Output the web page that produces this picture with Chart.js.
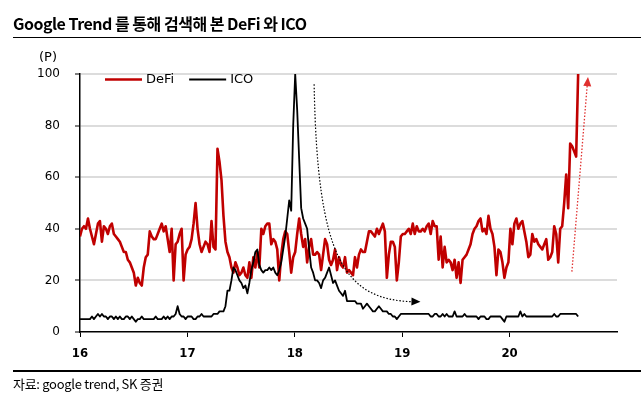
<!DOCTYPE html>
<html>
<head>
<meta charset="utf-8">
<script src="https://cdn.jsdelivr.net/npm/chart.js@4.4.1/dist/chart.umd.min.js"></script>
<style>
  html, body { margin: 0; padding: 0; background: #fff; }
  #wrap { position: relative; width: 641px; height: 396px; overflow: hidden; }
  #title { position: absolute; left: 13px; top: 11px; font: bold 16px "Liberation Sans Narrow", "Noto Sans CJK KR", sans-serif; letter-spacing: -0.5px; color: #000; white-space: nowrap; }
  .rule { position: absolute; left: 13px; right: 0; background: #000; }
  #unit { position: absolute; left: 39px; top: 49px; font: 13px "DejaVu Sans", sans-serif; color: #000; }
  #src { position: absolute; left: 13px; top: 374px; font: 13px "Liberation Sans Narrow", "Noto Sans CJK KR", sans-serif; letter-spacing: -0.3px; color: #000; white-space: nowrap; }
  canvas { position: absolute; left: 0; top: 0; }
</style>
</head>
<body>
<div id="wrap">
  <canvas id="myChart" width="641" height="396"></canvas>
  <div id="title">Google Trend 를 통해 검색해 본 DeFi 와 ICO</div>
  <div class="rule" style="top:37px;height:1px"></div>
  <div id="unit">(P)</div>
  <div class="rule" style="top:370px;height:2px"></div>
  <div id="src">자료: google trend, SK 증권</div>
</div>
<script>
// values, one sample every ~2px (about a week)
const startYear = 16;
const samplesPerYear = 53.9;
const yearTicks = [16, 17, 18, 19, 20];

const defi = [
  37, 40, 41, 40, 44, 40, 37, 34, 38, 42,
  43, 35, 41, 40, 38, 41, 42, 38, 37, 36,
  35, 33, 31, 31, 28, 27, 25, 23, 18, 21,
  19, 18, 25, 29, 30, 39, 37, 36, 36, 38,
  40, 42, 39, 41, 36, 31, 40, 20, 34, 35,
  38, 40, 20, 30, 32, 33, 36, 42, 50, 40,
  34, 31, 33, 35, 34, 31, 43, 33, 32, 71,
  66, 59, 45, 35, 31, 29, 25, 23, 27, 25,
  22, 23, 25, 22, 21, 27, 21, 29, 25, 31,
  25, 40, 38, 41, 42, 42, 34, 36, 35, 32,
  20, 30, 36, 39, 38, 31, 23, 29, 31, 38,
  44, 38, 33, 36, 27, 33, 36, 30, 30, 31,
  30, 24, 30, 36, 34, 28, 26, 28, 32, 24,
  29, 26, 25, 29, 23, 24, 23, 22, 29, 25,
  30, 32, 31, 31, 35, 39, 39, 38, 37, 40,
  38, 40, 42, 39, 21, 30, 35, 35, 33, 20,
  27, 37, 38, 38, 39, 40, 38, 42, 38, 41,
  39, 39, 40, 39, 41, 42, 38, 43, 41, 41,
  28, 37, 25, 33, 27, 28, 27, 24, 28, 21,
  27, 19, 28, 29, 30, 32, 34, 38, 40, 41,
  43, 44, 39, 40, 38, 45, 40, 38, 33, 22,
  32, 31, 27, 21, 25, 27, 40, 34, 42, 44,
  40, 42, 43, 39, 35, 29, 30, 38, 35, 36,
  34, 33, 32, 34, 36, 28, 29, 31, 41, 38,
  27, 40, 41, 50, 61, 48, 73, 72, 70, 68,
  100
];

const ico = [
  5, 5, 5, 5, 5, 5, 6, 5, 6, 7,
  6, 7, 6, 6, 5, 6, 6, 5, 6, 5,
  6, 5, 5, 6, 6, 5, 6, 5, 4, 5,
  5, 6, 5, 5, 5, 5, 5, 5, 6, 5,
  5, 5, 6, 5, 6, 5, 6, 6, 7, 10,
  7, 6, 6, 5, 6, 6, 6, 5, 5, 6,
  6, 7, 6, 6, 6, 6, 6, 7, 7, 7,
  8, 8, 8, 10, 16, 16, 20, 25, 24, 22,
  20, 19, 17, 18, 15, 19, 24, 27, 31, 32,
  26, 24, 23, 24, 24, 25, 24, 25, 23, 22,
  24, 27, 32, 37, 44, 51, 47, 80, 100, 86,
  67, 48, 44, 42, 40, 32, 25, 23, 20, 20,
  19, 17, 20, 21, 23, 25, 22, 19, 20, 18,
  16, 15, 14, 16, 12, 12, 12, 12, 12, 11,
  11, 11, 9, 10, 11, 10, 9, 8, 8, 9,
  10, 9, 8, 8, 8, 7, 7, 6, 6, 5,
  6, 7, 7, 7, 7, 7, 7, 7, 7, 7,
  7, 7, 7, 7, 7, 7, 6, 6, 7, 7,
  6, 6, 7, 6, 7, 6, 6, 6, 8, 6,
  6, 6, 6, 7, 6, 6, 6, 6, 6, 6,
  5, 6, 6, 6, 5, 5, 6, 6, 6, 6,
  6, 6, 5, 4, 6, 6, 6, 6, 6, 6,
  6, 8, 6, 7, 6, 6, 6, 6, 6, 6,
  6, 6, 6, 6, 6, 6, 6, 6, 7, 6,
  6, 7, 7, 7, 7, 7, 7, 7, 7, 7,
  6
];

// annotation arrows, in chart units [year, value]
const icoFallCurve = [[18.18, 96], [18.21, 28], [18.46, 12.4], [19.17, 11.7]];
const defiRiseArrow = [[20.58, 23.4], [20.73, 98.8]];

const toPoints = arr => arr.map((v, i) => ({ x: startYear + i / samplesPerYear, y: v }));

const inlineLegend = {
  id: 'inlineLegend',
  afterDraw(chart) {
    const ctx = chart.ctx, area = chart.chartArea;
    let x = area.left + 25;
    const y = area.top + 5.5;
    ctx.save();
    ctx.font = '13px "DejaVu Sans", sans-serif';
    ctx.textBaseline = 'middle';
    chart.data.datasets.forEach(ds => {
      ctx.strokeStyle = ds.borderColor;
      ctx.lineWidth = ds.borderWidth;
      ctx.beginPath();
      ctx.moveTo(x, y);
      ctx.lineTo(x + 37, y);
      ctx.stroke();
      ctx.fillStyle = '#000';
      ctx.fillText(ds.label, x + 41, y);
      x += 41 + ctx.measureText(ds.label).width + 15;
    });
    ctx.restore();
  }
};

function arrowHead(ctx, fromX, fromY, toX, toY, len, half, color) {
  const ang = Math.atan2(toY - fromY, toX - fromX);
  ctx.fillStyle = color;
  ctx.beginPath();
  ctx.moveTo(toX, toY);
  ctx.lineTo(toX - len * Math.cos(ang) + half * Math.sin(ang), toY - len * Math.sin(ang) - half * Math.cos(ang));
  ctx.lineTo(toX - len * Math.cos(ang) - half * Math.sin(ang), toY - len * Math.sin(ang) + half * Math.cos(ang));
  ctx.closePath();
  ctx.fill();
}

const arrows = {
  id: 'arrows',
  afterDatasetsDraw(chart) {
    const ctx = chart.ctx, xs = chart.scales.x, ys = chart.scales.y;
    const px = p => [xs.getPixelForValue(p[0]), ys.getPixelForValue(p[1])];
    ctx.save();
    // black dotted curve
    const c = icoFallCurve.map(px);
    ctx.strokeStyle = '#000';
    ctx.lineWidth = 1.2;
    ctx.setLineDash([1.5, 1.8]);
    ctx.beginPath();
    ctx.moveTo(c[0][0], c[0][1]);
    ctx.bezierCurveTo(c[1][0], c[1][1], c[2][0], c[2][1], c[3][0] - 6, c[3][1]);
    ctx.stroke();
    ctx.setLineDash([]);
    arrowHead(ctx, c[2][0], c[2][1], c[3][0], c[3][1], 9, 4, '#000');
    // red dotted straight arrow
    const r = defiRiseArrow.map(px);
    ctx.strokeStyle = '#e0302f';
    ctx.lineWidth = 1.3;
    ctx.setLineDash([1.5, 1.8]);
    ctx.beginPath();
    ctx.moveTo(r[0][0], r[0][1]);
    ctx.lineTo(r[1][0] - 0.7, r[1][1] + 7);
    ctx.stroke();
    ctx.setLineDash([]);
    arrowHead(ctx, r[0][0], r[0][1], r[1][0], r[1][1], 9, 4, '#e0302f');
    ctx.restore();
  }
};

const config = {
  type: 'line',
  data: {
    datasets: [{
      label: 'DeFi',
      data: toPoints(defi),
      borderColor: '#c00000',
      backgroundColor: '#c00000',
      borderWidth: 2.6,
      pointRadius: 0,
      borderJoinStyle: 'round',
      order: 1
    },
    {
      label: 'ICO',
      data: toPoints(ico),
      borderColor: '#000000',
      backgroundColor: '#000000',
      borderWidth: 1.8,
      pointRadius: 0,
      borderJoinStyle: 'round',
      order: 0
    }]
  },
  options: {
    responsive: false,
    animation: false,
    layout: { padding: { left: 0, right: 24, top: 74, bottom: 0 } },
    plugins: { legend: { display: false }, tooltip: { enabled: false } },
    scales: {
      x: {
        type: 'linear',
        min: 16,
        max: 21,
        afterBuildTicks: s => { s.ticks = yearTicks.map(v => ({ value: v })); },
        afterFit: s => { s.height = 64; },
        ticks: {
          callback: v => String(v),
          color: '#000',
          padding: 9,
          maxRotation: 0,
          font: { family: '"Liberation Sans Narrow", "DejaVu Sans Condensed", sans-serif', size: 13, weight: 'bold' }
        },
        grid: { drawOnChartArea: false, drawTicks: true, tickLength: 5, tickColor: '#000', tickWidth: 1 },
        border: { color: '#000', width: 1.5 }
      },
      y: {
        min: 0,
        max: 100,
        afterFit: s => { s.width = 80; },
        ticks: {
          stepSize: 20,
          color: '#000',
          padding: 15,
          font: { family: '"DejaVu Sans", sans-serif', size: 12 }
        },
        grid: {
          color: c => c.tick.value === 0 ? 'rgba(0,0,0,0)' : '#dcdcdc',
          lineWidth: 2,
          tickColor: '#000',
          tickLength: 5,
          tickWidth: 1
        },
        border: { color: '#000', width: 1.5 }
      }
    }
  },
  plugins: [inlineLegend, arrows]
};

var myChart = new Chart(document.getElementById('myChart'), config);
</script>
</body>
</html>
